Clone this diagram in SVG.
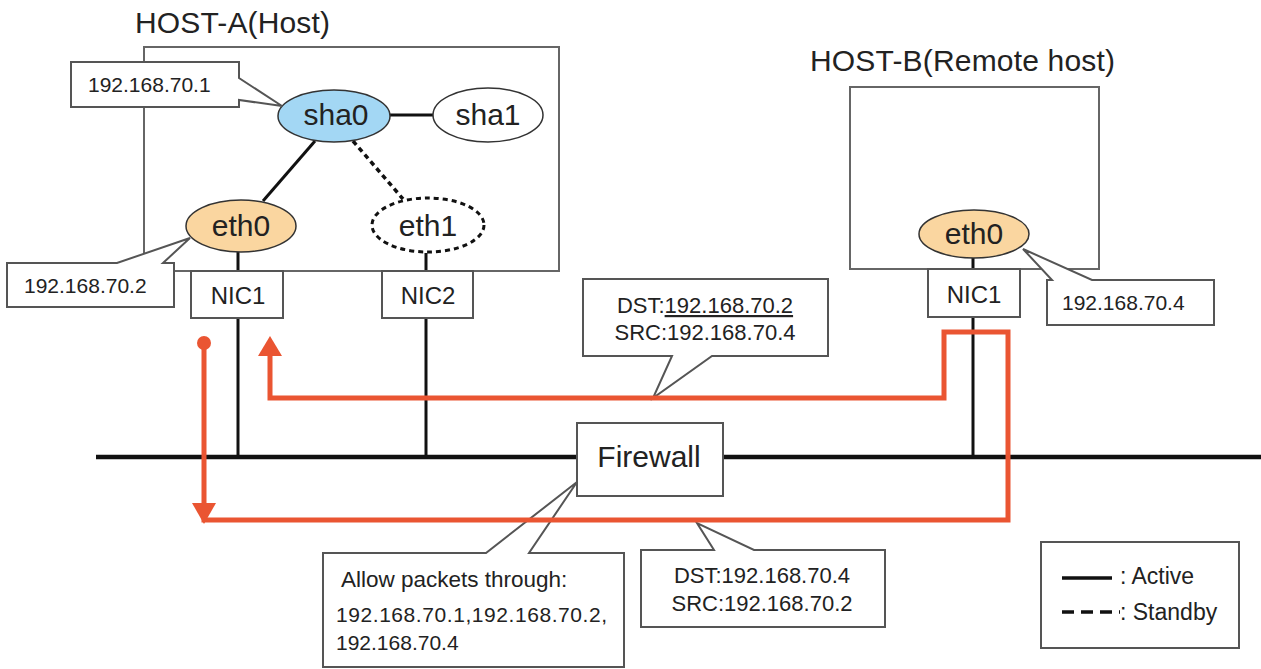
<svg xmlns="http://www.w3.org/2000/svg" width="1261" height="669" viewBox="0 0 1261 669">
<style>
text{font-family:"Liberation Sans",Arial,sans-serif;fill:#222}
.t{font-size:30px}
.n{font-size:24px}
.c{font-size:21px}
.d{font-size:22px}
.box{fill:#fff;stroke:#555;stroke-width:2}
.host{fill:none;stroke:#666;stroke-width:2}
.ln{stroke:#111;stroke-width:3;fill:none}
.dash{stroke:#111;stroke-width:3.5;fill:none;stroke-dasharray:5 4}
.or{stroke:#ea5532;stroke-width:5;fill:none}
.orf{fill:#ea5532}
.mid{text-anchor:middle}
</style>
<rect width="1261" height="669" fill="#fff"/>

<g id="host-a">
<text class="t" x="135" y="33" textLength="195" lengthAdjust="spacing">HOST-A(Host)</text>
<rect class="host" x="144" y="47" width="415" height="224"/>
</g>
<g id="host-b">
<text class="t" x="810" y="71" textLength="305" lengthAdjust="spacing">HOST-B(Remote host)</text>
<rect class="host" x="850" y="87" width="249" height="182"/>
</g>

<g id="connectors">
<line class="ln" x1="390" y1="115" x2="433" y2="115"/>
<line class="ln" x1="315" y1="141" x2="263" y2="201"/>
<line class="dash" x1="353" y1="141" x2="403" y2="199"/>
<line class="ln" x1="238" y1="252" x2="238" y2="457"/>
<line class="ln" x1="426" y1="253" x2="426" y2="457"/>
<line class="ln" x1="973" y1="258" x2="973" y2="457"/>
<line x1="96" y1="457" x2="1261" y2="457" stroke="#111" stroke-width="4.5"/>
</g>

<g id="sha0">
<ellipse cx="334" cy="116" rx="56" ry="26" fill="#a3d7f4" stroke="#333" stroke-width="1.5"/>
<text class="t mid" x="336" y="125">sha0</text>
</g>
<g id="sha1">
<ellipse cx="488" cy="115" rx="55" ry="27" fill="#fff" stroke="#333" stroke-width="1.5"/>
<text class="t mid" x="488" y="125">sha1</text>
</g>
<g id="eth0-a">
<ellipse cx="241" cy="226" rx="55" ry="26" fill="#fad6a0" stroke="#333" stroke-width="1.5"/>
<text class="t mid" x="241" y="236">eth0</text>
</g>
<g id="eth1-a">
<ellipse cx="428" cy="225" rx="56" ry="27" fill="#fff" stroke="#111" stroke-width="3" stroke-dasharray="5 4"/>
<text class="t mid" x="428" y="236">eth1</text>
</g>
<g id="nic1-a">
<rect class="box" x="191" y="271" width="92" height="47"/>
<text class="n mid" x="238" y="304">NIC1</text>
</g>
<g id="nic2-a">
<rect class="box" x="382" y="271" width="91" height="47"/>
<text class="n mid" x="428" y="304">NIC2</text>
</g>
<g id="eth0-b">
<ellipse cx="974" cy="234" rx="55" ry="24" fill="#fad6a0" stroke="#333" stroke-width="1.5"/>
<text class="t mid" x="974" y="244">eth0</text>
</g>
<g id="nic1-b">
<rect class="box" x="928" y="269" width="92" height="48"/>
<text class="n mid" x="974" y="303">NIC1</text>
</g>

<g id="callout-ip1">
<path class="box" d="M71,62 H239 V78 L282,106 L239,100 V107 H71 Z"/>
<text class="c" x="88" y="92">192.168.70.1</text>
</g>
<g id="callout-ip2">
<path class="box" d="M7,263 H117 L190,238 L163,263 H174 V307 H7 Z"/>
<text class="c" x="24" y="293">192.168.70.2</text>
</g>
<g id="callout-ip4">
<path class="box" d="M1047,280 H1052 L1023,249 L1092,280 H1214 V325 H1047 Z"/>
<text class="c" x="1062" y="310">192.168.70.4</text>
</g>

<g id="firewall">
<rect class="box" x="577" y="423" width="146" height="73"/>
<text class="t mid" x="649" y="467">Firewall</text>
</g>

<g id="callout-dst2">
<path class="box" d="M583,279 H828 V356 H712 L653,398 L672,356 H583 Z"/>
<text class="d mid" x="705" y="313">DST:<tspan text-decoration="underline">192.168.70.2</tspan></text>
<text class="d mid" x="705" y="340">SRC:192.168.70.4</text>
</g>
<g id="callout-allow">
<path class="box" d="M323,553 H486 L577,482 L529,553 H624 V667 H323 Z"/>
<text x="341" y="587" font-size="22.5">Allow packets through:</text>
<text class="c" x="336" y="622" textLength="271">192.168.70.1,192.168.70.2,</text>
<text class="c" x="336" y="650">192.168.70.4</text>
</g>
<g id="callout-dst4">
<path class="box" d="M641,550 H714 L697,523 L754,550 H885 V627 H641 Z"/>
<text class="d mid" x="762" y="583">DST:192.168.70.4</text>
<text class="d mid" x="762" y="611">SRC:192.168.70.2</text>
</g>

<g id="packet-flow">
<path class="or" d="M204,343 V520 H1008 V332 H944 V398 H270 V352"/>
<circle class="orf" cx="204" cy="343" r="7"/>
<polygon class="orf" points="192,503 216,503 204,524"/>
<polygon class="orf" points="258,356 282,356 270,336"/>
</g>

<g id="legend">
<rect class="box" x="1041" y="542" width="198" height="106"/>
<line x1="1062" y1="578" x2="1112" y2="578" stroke="#111" stroke-width="3.5"/>
<line x1="1062" y1="612" x2="1120" y2="612" stroke="#111" stroke-width="3.5" stroke-dasharray="12 7"/>
<text x="1120" y="584" font-size="23">: Active</text>
<text x="1120" y="620" font-size="23">: Standby</text>
</g>
</svg>
